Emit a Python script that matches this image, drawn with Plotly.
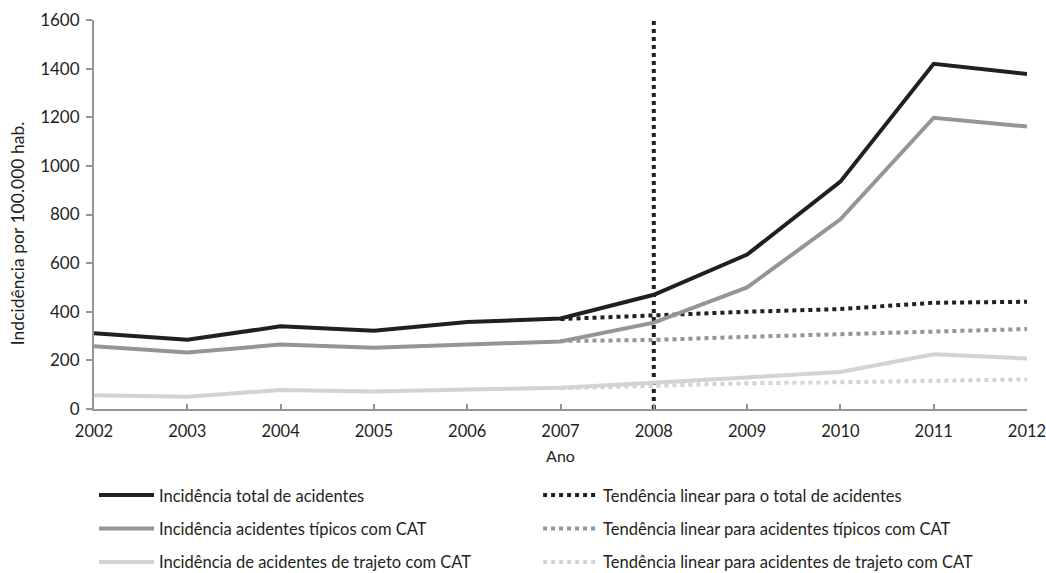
import plotly.graph_objects as go

years = [2002, 2003, 2004, 2005, 2006, 2007, 2008, 2009, 2010, 2011, 2012]
total = [312, 285, 340, 322, 358, 372, 470, 635, 935, 1420, 1378]
tipicos = [258, 232, 265, 252, 265, 278, 355, 500, 780, 1198, 1162]
trajeto = [57, 50, 78, 72, 80, 87, 108, 130, 152, 225, 208]

trend_years = [2007, 2008, 2009, 2010, 2011, 2012]
trend_total = [370, 387, 400, 411, 437, 441]
trend_tipicos = [280, 284, 297, 308, 318, 329]
trend_trajeto = [85, 95, 106, 110, 116, 122]

marker_year = 2008
y_range = [0, 1600]

names = [
    "Incidência total de acidentes",
    "Incidência acidentes típicos com CAT",
    "Incidência de acidentes de trajeto com CAT",
    "Tendência linear para o total de acidentes",
    "Tendência linear para acidentes típicos com CAT",
    "Tendência linear para acidentes de trajeto com CAT",
]
y_title = "Indcidência por 100.000 hab."
x_title = "Ano"
colors = ["#231f20", "#939598", "#d1d3d4"]

fig = go.Figure()
fig.add_trace(go.Scatter(x=[marker_year, marker_year], y=y_range, mode="lines",
                         line=dict(color="#231f20", width=4, dash="dot"),
                         showlegend=False, hoverinfo="skip"))

for i, tvals in enumerate([trend_total, trend_tipicos, trend_trajeto]):
    fig.add_trace(go.Scatter(x=trend_years, y=tvals, mode="lines", name=names[i + 3],
                             line=dict(color=colors[i], width=4, dash="dot"),
                             legend="legend2", legendgroup="t%d" % i, legendrank=i))
for i, vals in enumerate([total, tipicos, trajeto]):
    fig.add_trace(go.Scatter(x=years, y=vals, mode="lines", name=names[i],
                             line=dict(color=colors[i], width=4),
                             legend="legend", legendgroup="s%d" % i, legendrank=i))

font_family = "Lato, 'Open Sans', sans-serif"
legend_common = dict(orientation="v", yanchor="top", y=-0.177, xanchor="left",
                     tracegroupgap=9, font=dict(size=16.5, color="#231f20"),
                     itemwidth=55, bgcolor="rgba(0,0,0,0)")
fig.update_layout(
    width=1046, height=573,
    margin=dict(l=94, r=19, t=20, b=164, autoexpand=False),
    plot_bgcolor="white", paper_bgcolor="white",
    font=dict(family=font_family, size=15, color="#231f20"),
    xaxis=dict(range=[2002, 2012], tickmode="array", tickvals=years, automargin=False,
               showgrid=False, zeroline=False, showline=True, linecolor="#939598", linewidth=2,
               ticks="inside", ticklen=5, tickcolor="#939598", tickwidth=2,
               ticklabelstandoff=6, ticklabeloverflow="allow",
               title=dict(text=x_title, font=dict(size=16), standoff=11),
               tickfont=dict(size=16.5)),
    yaxis=dict(range=y_range, tickmode="array", tickvals=list(range(0, 1601, 200)), automargin=False,
               showgrid=False, zeroline=False, showline=True, linecolor="#939598", linewidth=2,
               ticks="outside", ticklen=6, tickcolor="#939598", tickwidth=2,
               ticklabelstandoff=3,
               tickfont=dict(size=17)),
    legend=dict(x=0.0, **legend_common),
    legend2=dict(x=0.476, **legend_common),
    annotations=[dict(text=y_title, textangle=-90, xref="paper", yref="paper",
                      x=-0.0825, y=0.452, xanchor="center", yanchor="middle",
                      showarrow=False, font=dict(size=17.5, color="#231f20"))],
)

fig.write_html("out.html", config={"displayModeBar": False},
               post_script="document.body.style.margin='0';document.body.style.overflow='hidden';")
